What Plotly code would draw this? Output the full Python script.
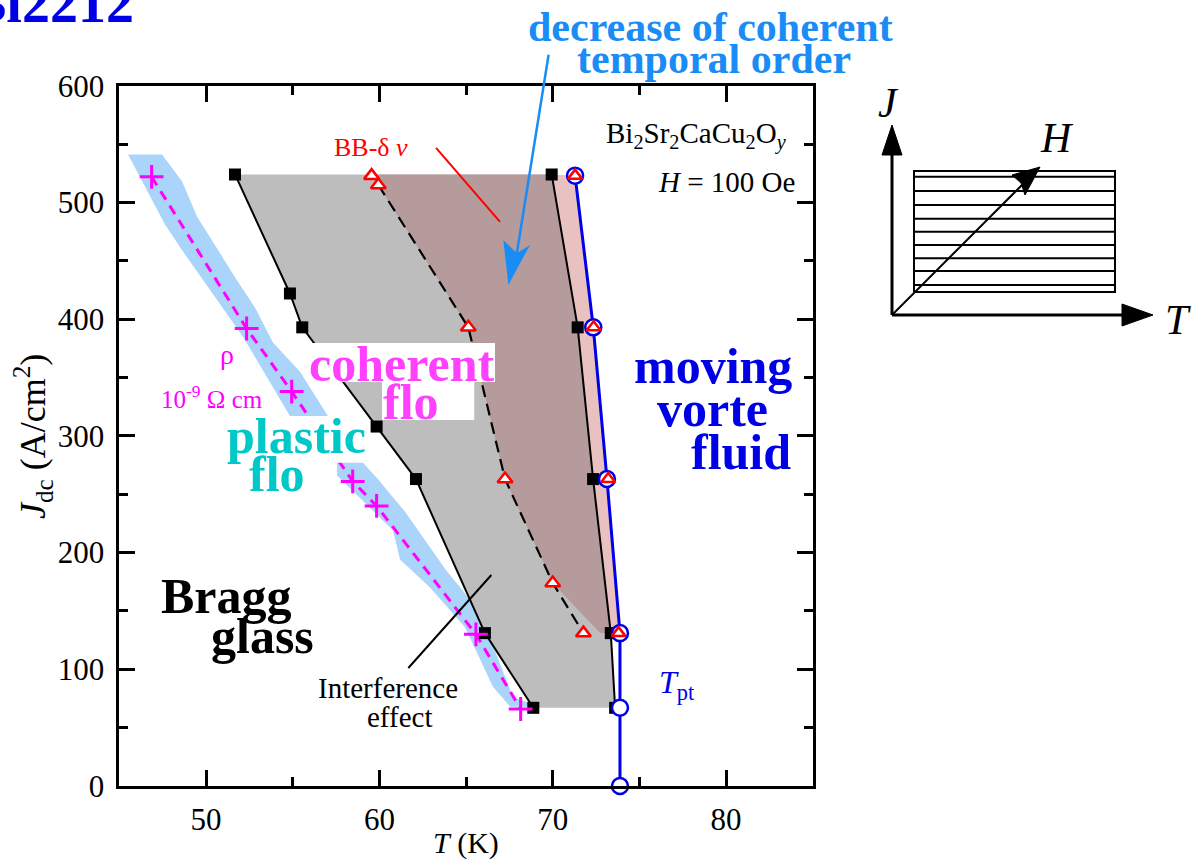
import plotly.graph_objects as go

W, H = 1195, 861
FONT = "Liberation Serif, serif"

# ---------------- data ----------------
sq_left_T = [51.67, 54.84, 55.55, 59.84, 62.11, 66.09, 68.88]
sq_left_J = [524, 422, 393, 308, 263, 131, 67]
sq_right_T = [69.94, 71.44, 72.33, 73.35, 73.60]
sq_right_J = [524, 393, 263, 131, 67]
tri_T = [59.55, 59.94, 65.13, 67.25, 70.00, 71.77]
tri_J = [523, 515, 393, 263, 174, 131]
tpt_T = [71.29, 72.34, 73.13, 73.88, 73.88, 73.88]
tpt_J = [523, 393, 263, 131, 67, 0]
tri_tpt_T = [71.29, 72.36, 73.20, 73.80]
tri_tpt_J = [523, 393, 263, 131]
rho_T = [46.86, 52.34, 54.94, 58.46, 59.84, 65.57, 68.15]
rho_J = [522, 392, 338, 261, 240, 130, 66]

# light-blue band around the rho line (right edge down, left edge up)
band_T = [47.46, 48.62, 49.48, 51.67, 52.82, 53.86, 55.42, 57.03, 59.05, 59.86, 61.48, 63.84, 65.81, 67.71, 69.27,
          67.54, 66.55, 64.94, 62.92, 61.19, 60.79, 57.56, 57.56, 54.84, 52.13, 50.23, 48.62, 47.64, 45.50]
band_J = [541, 518, 488, 436, 410, 380, 355, 317, 277, 264, 235, 185, 149, 76, 68,
          68, 85, 136, 170, 194, 219, 266, 277, 317, 385, 425, 459, 481, 541]
brown_foot_T = 72.73

x_ticks = [50, 60, 70, 80]
y_ticks = [0, 100, 200, 300, 400, 500, 600]

# ---------------- helpers ----------------
def PX(x):
    return x / W

def PY(y):
    return 1 - y / H

fig = go.Figure()

def poly(xs, ys, color, **kw):
    fig.add_trace(go.Scatter(x=xs + [xs[0]], y=ys + [ys[0]], mode="lines", fill="toself",
                             fillcolor=color, line=dict(width=0, color=color), hoverinfo="skip", **kw))

# fills
poly(band_T, band_J, "#aad4fa")
grey_T = sq_left_T + [sq_right_T[-1]] + sq_right_T[::-1][1:]
grey_J = sq_left_J + [sq_right_J[-1]] + sq_right_J[::-1][1:]
poly(grey_T, grey_J, "#bdbdbd")
brown_T = [tri_T[1]] + sq_right_T[:4] + [brown_foot_T] + tri_T[4:0:-1]
brown_J = [sq_right_J[0]] + sq_right_J[:4] + [sq_right_J[3]] + tri_J[4:0:-1]
poly(brown_T, brown_J, "#b59b9b")
pink_T = sq_right_T[:4] + tpt_T[:4][::-1]
pink_J = sq_right_J[:4] + tpt_J[:4][::-1]
poly(pink_T, pink_J, "#e9c1c1")

SKY = "#1a8cf5"
# blue arrow head (decrease of coherent temporal order)
poly([67.44, 67.15, 67.93, 68.69], [429.3, 467.9, 456.5, 463.6], SKY)

# lines
fig.add_trace(go.Scatter(x=rho_T, y=rho_J, mode="lines",
                         line=dict(color="#ff00ff", width=3, dash="10px,7px")))
fig.add_trace(go.Scatter(x=sq_left_T, y=sq_left_J, mode="lines+markers",
                         line=dict(color="black", width=2),
                         marker=dict(symbol="square", size=12, color="black")))
fig.add_trace(go.Scatter(x=tri_T[1:], y=tri_J[1:], mode="lines",
                         line=dict(color="black", width=2.2, dash="12px,7px")))
fig.add_trace(go.Scatter(x=sq_right_T, y=sq_right_J, mode="lines+markers",
                         line=dict(color="black", width=2),
                         marker=dict(symbol="square", size=12, color="black")))
fig.add_trace(go.Scatter(x=tpt_T, y=tpt_J, mode="lines+markers", cliponaxis=False,
                         line=dict(color="#0000e6", width=3),
                         marker=dict(symbol="circle", size=16, color="white",
                                     line=dict(color="#0000e6", width=2.5))))
fig.add_trace(go.Scatter(x=tri_T, y=tri_J, mode="markers",
                         marker=dict(symbol="triangle-up", size=13, color="white",
                                     line=dict(color="#ff0000", width=2.5))))
fig.add_trace(go.Scatter(x=tri_tpt_T, y=tri_tpt_J, mode="markers",
                         marker=dict(symbol="triangle-up", size=12, color="white",
                                     line=dict(color="#ff0000", width=2.5))))
fig.add_trace(go.Scatter(x=rho_T, y=rho_J, mode="markers",
                         marker=dict(symbol="cross-thin", size=17,
                                     line=dict(color="#ff00ff", width=3))))
# pointer lines
fig.add_trace(go.Scatter(x=[63.27, 66.96], y=[546.7, 483.3], mode="lines",
                         line=dict(color="#ff0000", width=2)))
fig.add_trace(go.Scatter(x=[61.67, 66.46], y=[101.1, 180.8], mode="lines",
                         line=dict(color="black", width=2)))

# ---------------- inset schematic (x2 / y2) ----------------
ins = dict(xaxis="x2", yaxis="y2", hoverinfo="skip")
fig.add_trace(go.Scatter(x=[0, 0], y=[0, 162], mode="lines", line=dict(color="black", width=3), **ins))
fig.add_trace(go.Scatter(x=[-10, 0, 10, -10], y=[160, 190, 160, 160], mode="lines", fill="toself",
                         fillcolor="black", line=dict(color="black", width=1), **ins))
fig.add_trace(go.Scatter(x=[0, 232], y=[0, 0], mode="lines", line=dict(color="black", width=3), **ins))
fig.add_trace(go.Scatter(x=[230, 261, 230, 230], y=[-11, 0, 11, -11], mode="lines", fill="toself",
                         fillcolor="black", line=dict(color="black", width=1), **ins))
fig.add_trace(go.Scatter(x=[22, 223, 223, 22, 22], y=[23, 23, 144, 144, 23], mode="lines",
                         line=dict(color="black", width=2), **ins))
hatch_y = [138.3, 124, 110, 96.3, 83.3, 70, 56.7, 44, 30]
hx, hy = [], []
for yy in hatch_y:
    hx += [22, 223, None]
    hy += [yy, yy, None]
fig.add_trace(go.Scatter(x=hx, y=hy, mode="lines", line=dict(color="black", width=2), **ins))
fig.add_trace(go.Scatter(x=[0, 135], y=[0, 135], mode="lines", line=dict(color="black", width=2), **ins))
fig.add_trace(go.Scatter(x=[148, 120, 129, 133, 148], y=[148, 140, 132, 120, 148], mode="lines", fill="toself",
                         fillcolor="black", line=dict(color="black", width=1), **ins))

# ---------------- white boxes behind labels ----------------
shapes = [
    dict(type="rect", xref="x", yref="y", x0=51.0, x1=59.28, y0=277, y1=317,
         fillcolor="white", line=dict(width=0), layer="above"),
    dict(type="rect", xref="x", yref="y", x0=55.82, x1=66.67, y0=346.2, y1=379.6,
         fillcolor="white", line=dict(width=0), layer="above"),
    dict(type="rect", xref="x", yref="y", x0=60.15, x1=65.47, y0=313.6, y1=346.4,
         fillcolor="white", line=dict(width=0), layer="above"),
]

# ---------------- annotations ----------------
def txt(text, x, y, size, color="black", bold=False, italic=False, xanchor="center", yanchor="middle", angle=0):
    t = text
    if italic:
        t = "<i>" + t + "</i>"
    if bold:
        t = "<b>" + t + "</b>"
    return dict(text=t, x=PX(x), y=PY(y), xref="paper", yref="paper", showarrow=False,
                xanchor=xanchor, yanchor=yanchor, textangle=angle,
                font=dict(family=FONT, size=size, color=color))

BLUE = "#0000e6"
ann = [
    txt("Bi2212", 136, 3, 56, BLUE, bold=True, xanchor="right"),
    txt("decrease of coherent", 710, 27, 42, SKY, bold=True),
    txt("temporal order", 714, 59, 42, SKY, bold=True),
    txt("BB-δ <i>ν</i>", 371, 147, 26, "#ff0000"),
    txt("Bi<sub>2</sub>Sr<sub>2</sub>CaCu<sub>2</sub>O<sub><i>y</i></sub>", 789, 135, 29, xanchor="right"),
    txt("<i>H</i> = 100 Oe", 797, 182, 29, xanchor="right"),
    txt("moving", 713, 366, 50, BLUE, bold=True),
    txt("vorte", 712, 409, 50, BLUE, bold=True),
    txt("fluid", 741, 452, 50, BLUE, bold=True),
    txt("coherent", 401, 364, 50, "#ff40ff", bold=True),
    txt("flo", 411, 402, 50, "#ff40ff", bold=True),
    txt("plastic", 296, 436, 50, "#00c8c8", bold=True),
    txt("flo", 277, 474, 50, "#00c8c8", bold=True),
    txt("ρ", 227, 355, 28, "#ff00ff"),
    txt("10<sup>-9</sup> Ω cm", 212, 397, 25, "#ff00ff"),
    txt("Bragg", 226, 596, 50, bold=True),
    txt("glass", 262, 636, 50, bold=True),
    txt("Interference", 388, 688, 29),
    txt("effect", 399, 717, 29),
    txt("<i>T</i><sub>pt</sub>", 657, 684, 32, BLUE, xanchor="left"),
    txt("<i>J</i><sub>dc</sub> (A/cm<sup>2</sup>)", 33, 437, 36, angle=-90),
    txt("<i>T</i> (K)", 466, 843, 30),
    txt("J", 888, 103, 42, italic=True),
    txt("H", 1057, 138, 42, italic=True),
    txt("T", 1178, 320, 42, italic=True),
]
# blue arrow shaft (head drawn as a filled polygon above)
ann.append(dict(x=67.93, y=456.5, xref="x", yref="y", ax=32, ay=-200, axref="pixel", ayref="pixel",
                text="", showarrow=True, arrowhead=0, arrowwidth=2.5,
                arrowcolor=SKY, standoff=0))

axis_common = dict(showline=True, linewidth=3, linecolor="black", mirror="ticks",
                   ticks="inside", tickwidth=2.5, tickcolor="black", ticklen=16,
                   showgrid=False, zeroline=False, automargin=False,
                   tickfont=dict(family=FONT, size=31, color="black"))

fig.update_layout(
    width=W, height=H, autosize=False,
    margin=dict(l=0, r=0, t=0, b=0, pad=0),
    paper_bgcolor="white", plot_bgcolor="white",
    font=dict(family=FONT),
    showlegend=False,
    xaxis=dict(domain=[0.0999, 0.6801], range=[45, 85], tickvals=x_ticks,
               minor=dict(dtick=5, tick0=45, ticks="inside", ticklen=9, tickwidth=2.5, tickcolor="black"),
               ticklabelstandoff=4, **axis_common),
    yaxis=dict(domain=[0.0871, 0.9004], range=[0, 600], tickvals=y_ticks,
               minor=dict(dtick=50, tick0=0, ticks="inside", ticklen=9, tickwidth=2.5, tickcolor="black"),
               ticklabelstandoff=6, **axis_common),
    xaxis2=dict(domain=[880 / W, 1190 / W], range=[-12, 298], visible=False, anchor="y2", automargin=False),
    yaxis2=dict(domain=[1 - 340 / H, 1 - 95 / H], range=[-25, 220], visible=False, anchor="x2", automargin=False),
    shapes=shapes,
    annotations=ann,
)

fig.write_html("out.html")
